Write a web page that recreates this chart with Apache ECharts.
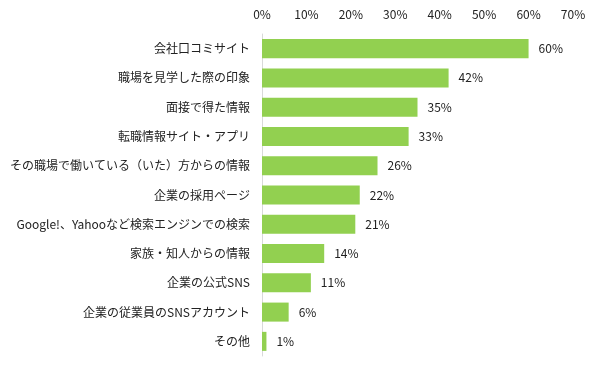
<!DOCTYPE html>
<html><head><meta charset="utf-8">
<script src="https://cdn.jsdelivr.net/npm/echarts@6/dist/echarts.min.js"></script>
<style>html,body{margin:0;padding:0;background:#fff}#c{width:600px;height:371px}</style>
</head><body><div id="c"></div>
<script>
const categories = ['会社口コミサイト','職場を見学した際の印象','面接で得た情報','転職情報サイト・アプリ','その職場で働いている（いた）方からの情報','企業の採用ページ','Google!、Yahooなど検索エンジンでの検索','家族・知人からの情報','企業の公式SNS','企業の従業員のSNSアカウント','その他'];
const values = [60,42,35,33,26,22,21,14,11,6,1];
const tickLabels = ['0%','10%','20%','30%','40%','50%','60%','70%'];
const font = '"Noto Sans CJK JP", sans-serif';
const chart = echarts.init(document.getElementById('c'));
chart.setOption({
  animation:false,
  grid:{left:262,right:27,top:34,bottom:15,containLabel:false},
  xAxis:{type:'value',position:'top',min:0,max:70,interval:10,
    axisLine:{show:false},axisTick:{show:false},splitLine:{show:false},
    axisLabel:{margin:14,color:'#222',fontSize:12,fontFamily:font,formatter:(v)=>tickLabels[v/10]}},
  yAxis:{type:'category',inverse:true,data:categories,
    axisLine:{show:true,lineStyle:{color:'#d9d9d9',width:1}},axisTick:{show:false},
    axisLabel:{margin:12,color:'#222',fontSize:12,fontFamily:font}},
  series:[{type:'bar',data:values,barCategoryGap:'35%',itemStyle:{color:'#92D050'},
    label:{show:true,position:'right',distance:10,color:'#222',fontSize:12,fontFamily:font,formatter:'{c}%'}}]
});
</script></body></html>
